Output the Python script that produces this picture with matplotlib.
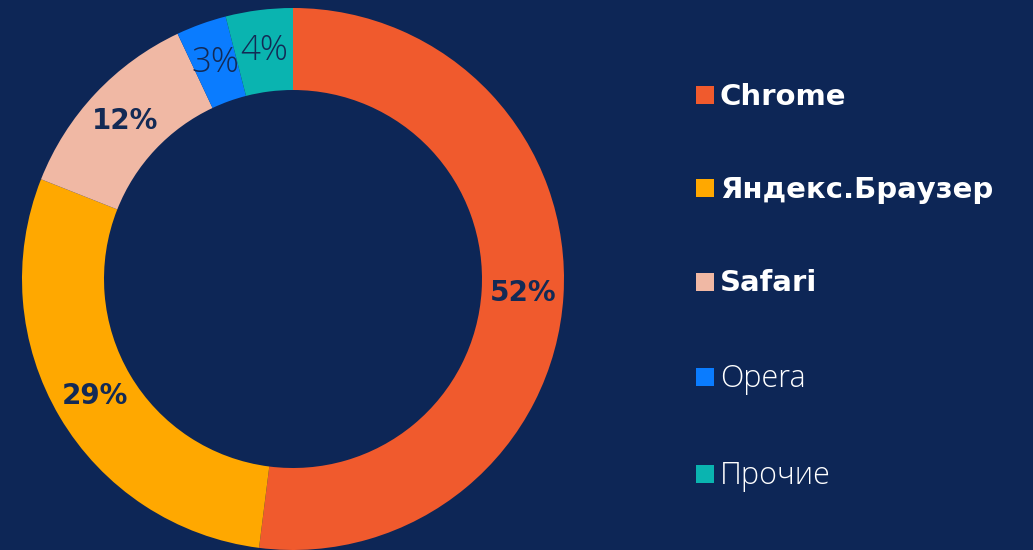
import matplotlib.pyplot as plt
from matplotlib.lines import Line2D

browsers = ["Chrome", "Яндекс.Браузер", "Safari", "Opera", "Прочие"]
shares = [52, 29, 12, 3, 4]
colors = ["#f05a2d", "#ffa800", "#f0b8a4", "#0a7cff", "#0ab4b0"]
bold = [True, True, True, False, False]

bg = "#0d2656"
navy = "#132a55"
plt.rcParams["font.family"] = ["Open Sans", "DejaVu Sans"]

fig = plt.figure(figsize=(10.33, 5.5), dpi=100, facecolor=bg)
ax = fig.add_axes([0, 0, 1, 1])
ax.set_facecolor(bg)

wedges, texts, autotexts = ax.pie(
    shares, colors=colors, startangle=90, counterclock=False,
    center=(293, 271), radius=271, frame=True,
    wedgeprops=dict(width=82, linewidth=0),
    autopct="%d%%", pctdistance=0.85)
ax.set_xlim(0, 1033)
ax.set_ylim(0, 550)
ax.axis("off")

for t, b in zip(autotexts, bold):
    t.set_color(navy)
    if b:
        t.set_fontsize(20)
        t.set_fontweight("bold")
        t.set_family("DejaVu Sans")
    else:
        t.set_fontsize(25)
        t.set_fontweight("light")

handles = [Line2D([], [], marker="s", linestyle="none", markersize=13,
                  markerfacecolor=c, markeredgewidth=0) for c in colors]
leg = ax.legend(handles, browsers, loc="upper left",
                bbox_to_anchor=(681 / 1033, 1 - 69 / 550),
                frameon=False, fontsize=20, labelspacing=2.35,
                handlelength=0.7, handletextpad=0.2, borderpad=0)
for t, b in zip(leg.get_texts(), bold):
    t.set_color("white")
    if b:
        t.set_fontweight("bold")
        t.set_family("DejaVu Sans")
        t.set_fontsize(21)
    else:
        t.set_fontweight("light")
        t.set_fontsize(22)

fig.savefig("out.png", dpi=100, facecolor=bg)
